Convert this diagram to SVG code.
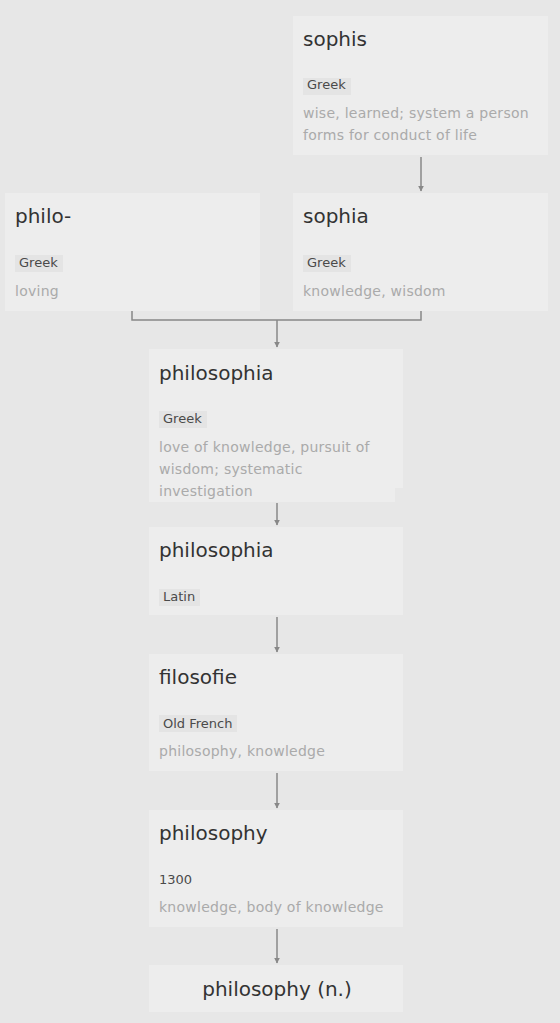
<svg xmlns="http://www.w3.org/2000/svg" width="560" height="1023" viewBox="0 0 560 1023">
<style>
.bg{fill:#e7e7e7}
.box{fill:#ededed}
.t{font-family:"DejaVu Sans",sans-serif;font-size:20px;fill:#333}
.tag{fill:#e4e4e4}
.tt{font-family:"DejaVu Sans",sans-serif;font-size:13px;fill:#4a4a4a}
.d{font-family:"DejaVu Sans",sans-serif;font-size:14px;letter-spacing:0.25px;fill:#aaa}
.c{stroke:#888;stroke-width:1.5;fill:none}
</style>
<defs>
<marker id="ar" viewBox="0 0 10 10" refX="9" refY="5" markerWidth="6" markerHeight="6" orient="auto" markerUnits="userSpaceOnUse">
<path d="M0,0 L10,5 L0,10 z" fill="#888"/>
</marker>
</defs>
<rect class="bg" x="0" y="0" width="560" height="1023"/>
<g id="connectors">
<line class="c" x1="421" y1="157" x2="421" y2="191" marker-end="url(#ar)"/>
<polyline class="c" points="132,311 132,320 421,320 421,311"/>
<line class="c" x1="277" y1="320" x2="277" y2="347" marker-end="url(#ar)"/>
<line class="c" x1="277" y1="503" x2="277" y2="525" marker-end="url(#ar)"/>
<line class="c" x1="277" y1="617" x2="277" y2="652" marker-end="url(#ar)"/>
<line class="c" x1="277" y1="773" x2="277" y2="808" marker-end="url(#ar)"/>
<line class="c" x1="277" y1="929" x2="277" y2="963" marker-end="url(#ar)"/>
</g>
<g id="sophis">
<rect class="box" x="293" y="16" width="255" height="139"/>
<text class="t" x="303" y="46">sophis</text>
<rect class="tag" x="303" y="78" width="48" height="17"/>
<text class="tt" x="307" y="89">Greek</text>
<text class="d" x="303" y="118">wise, learned; system a person</text>
<text class="d" x="303" y="140">forms for conduct of life</text>
</g>
<g id="philo">
<rect class="box" x="5" y="193" width="255" height="118"/>
<text class="t" x="15" y="223">philo-</text>
<rect class="tag" x="15" y="255" width="48" height="17"/>
<text class="tt" x="19" y="267">Greek</text>
<text class="d" x="15" y="296">loving</text>
</g>
<g id="sophia">
<rect class="box" x="293" y="193" width="255" height="118"/>
<text class="t" x="303" y="223">sophia</text>
<rect class="tag" x="303" y="255" width="48" height="17"/>
<text class="tt" x="307" y="267">Greek</text>
<text class="d" x="303" y="296">knowledge, wisdom</text>
</g>
<g id="philosophia-greek">
<rect class="box" x="149" y="349" width="254" height="139"/>
<rect class="box" x="149" y="487" width="246" height="15"/>
<text class="t" x="159" y="380">philosophia</text>
<rect class="tag" x="159" y="411" width="48" height="17"/>
<text class="tt" x="163" y="423">Greek</text>
<text class="d" x="159" y="452">love of knowledge, pursuit of</text>
<text class="d" x="159" y="474">wisdom; systematic</text>
<text class="d" x="159" y="496">investigation</text>
</g>
<g id="philosophia-latin">
<rect class="box" x="149" y="527" width="254" height="88"/>
<text class="t" x="159" y="557">philosophia</text>
<rect class="tag" x="159" y="589" width="41" height="17"/>
<text class="tt" x="163" y="601">Latin</text>
</g>
<g id="filosofie">
<rect class="box" x="149" y="654" width="254" height="117"/>
<text class="t" x="159" y="684">filosofie</text>
<rect class="tag" x="159" y="715" width="78" height="17"/>
<text class="tt" x="163" y="728">Old French</text>
<text class="d" x="159" y="756">philosophy, knowledge</text>
</g>
<g id="philosophy-1300">
<rect class="box" x="149" y="810" width="254" height="117"/>
<text class="t" x="159" y="840">philosophy</text>
<text class="tt" x="159" y="884">1300</text>
<text class="d" x="159" y="912">knowledge, body of knowledge</text>
</g>
<g id="philosophy-n">
<rect class="box" x="149" y="965" width="254" height="47"/>
<text class="t" x="277" y="996" text-anchor="middle">philosophy (n.)</text>
</g>
</svg>
